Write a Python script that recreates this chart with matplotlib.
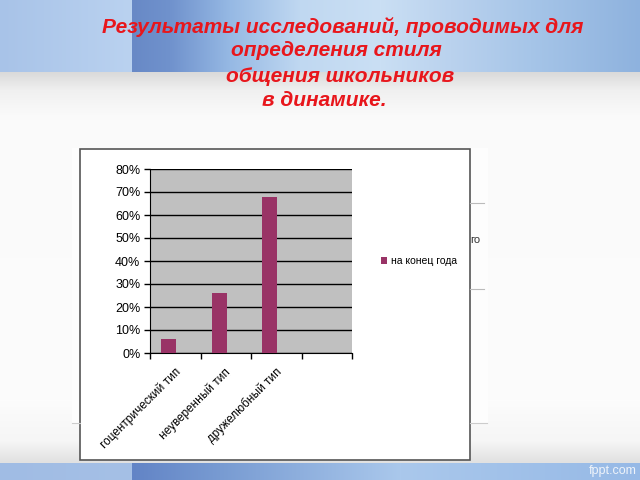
import numpy as np
import matplotlib.pyplot as plt
from matplotlib.patches import Rectangle
from matplotlib.ticker import PercentFormatter

plt.rcParams['font.family'] = ['Liberation Sans', 'DejaVu Sans']

# chart data (labels as visible, cut off at the chart edge)
categories = ['гоцентрический тип', 'неуверенный тип', 'дружелюбный тип', '']
values = [6, 26, 68, 0]
series_name = 'на конец года'
y_ticks = [0, 10, 20, 30, 40, 50, 60, 70, 80]

title_lines = ['Результаты исследований, проводимых для',
               'определения стиля',
               'общения школьников',
               'в динамике.']

W, H = 640, 480


def band(xs, stops):
    px = [s[0] for s in stops]
    cols = np.array([s[1] for s in stops], dtype=float)
    return np.stack([np.interp(xs, px, cols[:, i]) for i in range(3)], axis=-1)


# slide background
xs = np.arange(W)
top = band(xs, [(0, (168, 195, 232)), (131, (186, 210, 240)), (132, (104, 137, 198)),
                (170, (112, 146, 205)), (230, (150, 185, 228)), (300, (192, 216, 241)),
                (380, (202, 223, 244)), (450, (186, 210, 238)), (530, (166, 197, 232)),
                (640, (142, 178, 222))])
bottom = band(xs, [(0, (160, 188, 228)), (131, (165, 192, 230)), (132, (98, 132, 198)),
                   (220, (120, 155, 210)), (400, (170, 200, 236)), (640, (150, 185, 230))])
gy = np.interp(np.arange(H), [72, 90, 115, 400, 440, 462], [218, 240, 250, 252, 246, 225])
img = np.repeat(np.repeat(gy[:, None, None], W, axis=1), 3, axis=2)
img[:72] = top[None, :, :]
img[463:] = bottom[None, :, :]
img = img / 255.0

fig = plt.figure(figsize=(6.4, 4.8), dpi=100)
bg = fig.add_axes([0, 0, 1, 1])
bg.imshow(img, aspect='auto', extent=[0, W, H, 0], interpolation='bilinear')
bg.set_xlim(0, W)
bg.set_ylim(H, 0)
bg.axis('off')

# panel behind the chart (another chart peeking out)
bg.add_patch(Rectangle((72, 148), 416, 276, facecolor='#fdfdfd', edgecolor='none'))
bg.plot([72, 80], [423, 423], color='#cccccc', lw=0.8)
bg.plot([470, 487], [423, 423], color='#cccccc', lw=0.8)
bg.plot([470, 484], [203, 203], color='#bbbbbb', lw=0.8)
bg.plot([470, 484], [289, 289], color='#bbbbbb', lw=0.8)
bg.text(470, 240, 'го', fontsize=8, color='#333333', va='center', ha='left')

# chart box
bg.add_patch(Rectangle((80, 149), 390, 311, facecolor='white', edgecolor='#555555', lw=1.2))

# title
red = '#e8161c'
for txt, cx, cy in zip(title_lines, [343, 336, 340, 324], [27, 51, 77, 101]):
    bg.text(cx, cy, txt, ha='center', va='center', color=red, fontsize=15,
            fontweight='bold', fontstyle='italic')

bg.text(637, 471, 'fppt.com', ha='right', va='center', color='#eef3fa', fontsize=9)

# bar chart
ax = fig.add_axes([150 / W, 1 - 353 / H, 202 / W, 184 / H])
ax.set_facecolor('#c0c0c0')
x = np.arange(len(categories))
bars = ax.bar(x - 0.13, values, width=0.3, color='#993366', zorder=3, label=series_name)
ax.set_xlim(-0.5, len(categories) - 0.5)
ax.set_ylim(0, 80)
ax.set_yticks(y_ticks)
ax.yaxis.set_major_formatter(PercentFormatter(decimals=0))
ax.grid(axis='y', color='black', lw=1, zorder=1)
ax.set_axisbelow(True)
for s in ['top', 'right']:
    ax.spines[s].set_visible(False)
ax.spines['left'].set_color('black')
ax.spines['bottom'].set_color('black')
ax.set_xticks(np.arange(len(categories) + 1) - 0.5)
ax.set_xticklabels([])
ax.tick_params(axis='x', direction='out', length=4, width=1)
ax.tick_params(axis='y', direction='out', length=4, width=1, labelsize=9, pad=3)
for xi, lab in zip(x, categories):
    ax.text(xi - 0.02, -0.07, lab, transform=ax.get_xaxis_transform(), rotation=45,
            rotation_mode='anchor', ha='right', va='top', fontsize=8.5)

ax.legend(handles=[bars], loc='center left', bbox_to_anchor=(376 / W, 1 - 261 / H),
          bbox_transform=fig.transFigure, frameon=False, fontsize=7.5, borderpad=0,
          handlelength=0.6, handleheight=0.7, handletextpad=0.35)

fig.savefig('out.png', dpi=100)
